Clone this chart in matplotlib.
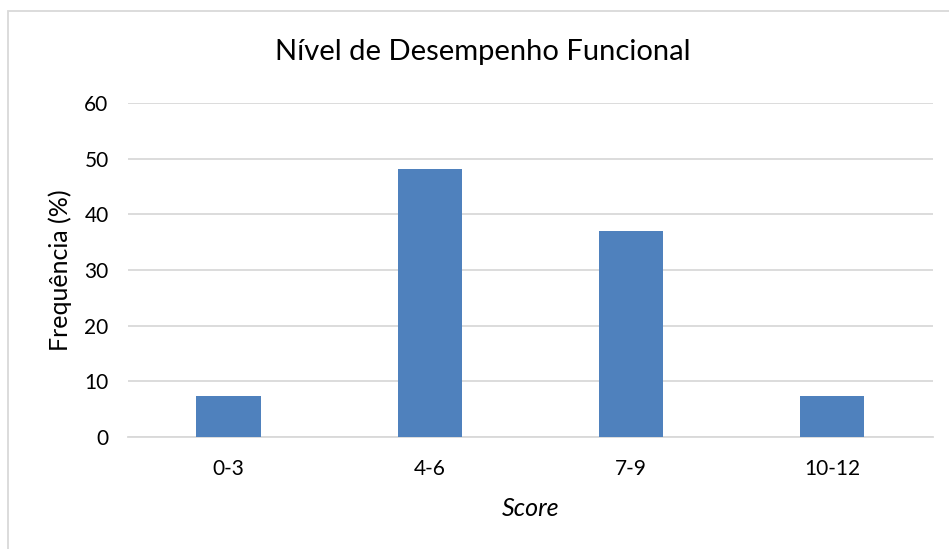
import matplotlib
matplotlib.use("Agg")
import matplotlib.pyplot as plt
from matplotlib.patches import Rectangle

# Data
categories = ["0-3", "4-6", "7-9", "10-12"]
freq = [7.4, 48.1, 37.0, 7.4]
yticks = [0, 10, 20, 30, 40, 50, 60]

plt.rcParams['font.family'] = ['Lato', 'DejaVu Sans']

fig = plt.figure(figsize=(9.49, 5.49), dpi=100)
ax = fig.add_axes([0.1349, 0.2046, 0.983 - 0.1349, 0.8118 - 0.2046])

# chart border (only left and top visible in the reference)
fig.patches.append(Rectangle((8 / 949, -0.1), 1.2, 1 - 11 / 549 + 0.1,
                             transform=fig.transFigure, fill=False,
                             edgecolor='#d9d9d9', linewidth=1.3))

x = range(len(categories))
ax.bar(x, freq, width=0.32, color='#4F81BD', zorder=3)

ax.set_xlim(-0.5, 3.5)
ax.set_ylim(0, 60)
ax.set_yticks(yticks)
ax.set_xticks(list(x))
ax.set_xticklabels(categories)
ax.yaxis.grid(True, color='#d9d9d9', linewidth=1.3, zorder=0)
ax.set_axisbelow(True)
for s in ['top', 'right', 'left']:
    ax.spines[s].set_visible(False)
ax.spines['bottom'].set_color('#d9d9d9')
ax.spines['bottom'].set_linewidth(1.3)
ax.tick_params(length=0, labelsize=15, colors='black')
ax.tick_params(axis='y', pad=14)
ax.tick_params(axis='x', pad=16)

ax.set_ylabel("Frequência (%)", fontsize=18)
ax.set_xlabel("Score", fontsize=18, style='italic')
ax.yaxis.set_label_coords(-0.0845, 0.5)
ax.yaxis.label.set_va('center')
ax.xaxis.set_label_coords(0.5, -0.214)
ax.xaxis.label.set_va('center')
fig.text(483 / 949, 1 - 52 / 549, "Nível de Desempenho Funcional",
         ha='center', va='center', fontsize=21)

fig.savefig("out.png", dpi=100)
